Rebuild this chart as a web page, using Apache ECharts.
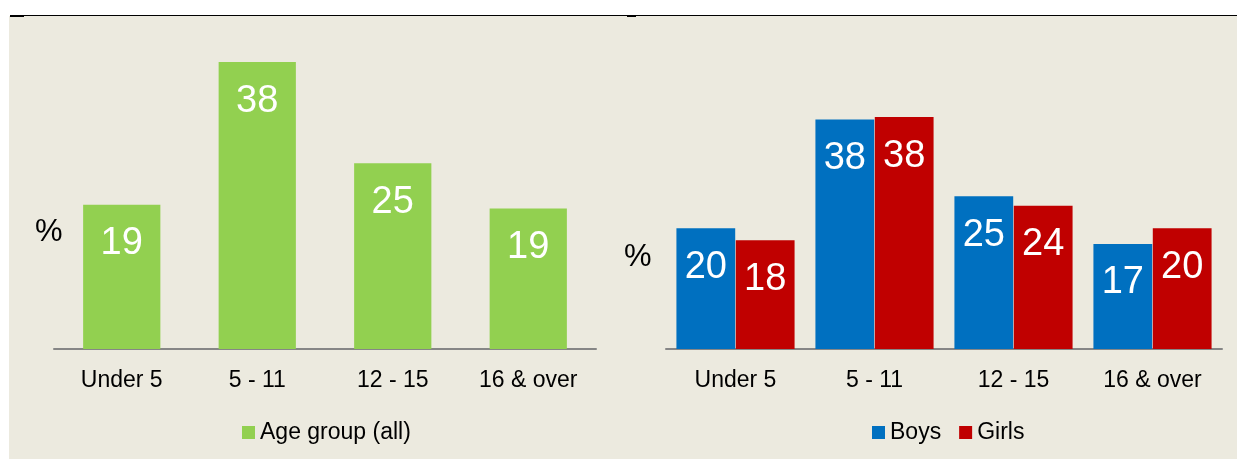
<!DOCTYPE html>
<html>
<head>
<meta charset="utf-8">
<script src="https://cdn.jsdelivr.net/npm/echarts@6/dist/echarts.min.js"></script>
<style>
  html, body { margin: 0; padding: 0; background: #ffffff; }
  #chart { width: 1237px; height: 459px; }
</style>
</head>
<body>
<div id="chart"></div>
<script>
'use strict';

// categories shared by both panels
var categories = ['Under 5', '5 - 11', '12 - 15', '16 & over'];
// left panel: all children by age group (%)
var ageAll = [19.1, 38, 24.6, 18.6];
// right panel: boys / girls by age group (%)
var boys = [20, 38, 25.3, 17.4];
var girls = [18, 38.4, 23.7, 20];

var FONT = 'Liberation Sans, Arial, sans-serif';

var chart = echarts.init(document.getElementById('chart'));

function valueLabel() {
    return {
        show: true,
        position: 'insideTop',
        distance: 20,
        color: '#ffffff',
        fontSize: 38,
        fontFamily: FONT,
        formatter: function (p) { return Math.round(p.value); }
    };
}

function catAxis(idx) {
    return {
        type: 'category',
        gridIndex: idx,
        data: categories,
        axisLine: { lineStyle: { color: '#868686', width: 2 } },
        axisTick: { show: false },
        axisLabel: { color: '#000000', fontSize: 23, fontFamily: FONT, margin: 20 }
    };
}

var option = {
    backgroundColor: '#ffffff',
    animation: false,
    textStyle: { fontFamily: FONT },
    graphic: [
        // beige panel
        { type: 'rect', z: -10, shape: { x: 9, y: 16, width: 1228, height: 443 }, style: { fill: '#ECEADF' } },
        // top rule and its small marks
        { type: 'rect', z: -5, shape: { x: 10, y: 15, width: 1227, height: 1 }, style: { fill: '#000000' } },
        { type: 'rect', z: -5, shape: { x: 10, y: 15, width: 14, height: 2 }, style: { fill: '#000000' } },
        { type: 'rect', z: -5, shape: { x: 627, y: 15, width: 9, height: 2 }, style: { fill: '#000000' } },
        // % signs
        { type: 'text', left: 35, top: 217, style: { text: '%', fontSize: 31, fontFamily: FONT, fill: '#000000' } },
        { type: 'text', left: 624, top: 242, style: { text: '%', fontSize: 31, fontFamily: FONT, fill: '#000000' } }
    ],
    legend: [
        {
            data: ['Age group (all)'],
            left: 242, top: 421, padding: 0,
            itemWidth: 13, itemHeight: 13, itemGap: 18,
            icon: 'rect',
            textStyle: { fontSize: 23, color: '#000000', fontFamily: FONT }
        },
        {
            data: ['Boys', 'Girls'],
            left: 872, top: 421, padding: 0,
            itemWidth: 13, itemHeight: 13, itemGap: 18,
            icon: 'rect',
            textStyle: { fontSize: 23, color: '#000000', fontFamily: FONT }
        }
    ],
    grid: [
        { left: 54, top: 47, width: 542, height: 302 },
        { left: 666, top: 47, width: 556, height: 302 }
    ],
    xAxis: [catAxis(0), catAxis(1)],
    yAxis: [
        { type: 'value', gridIndex: 0, min: 0, max: 40, show: false, splitLine: { show: false } },
        { type: 'value', gridIndex: 1, min: 0, max: 50, show: false, splitLine: { show: false } }
    ],
    series: [
        {
            name: 'Age group (all)', type: 'bar', xAxisIndex: 0, yAxisIndex: 0,
            data: ageAll, barCategoryGap: '43%',
            itemStyle: { color: '#92D050' },
            label: valueLabel()
        },
        {
            name: 'Boys', type: 'bar', xAxisIndex: 1, yAxisIndex: 1,
            data: boys, barGap: '1%', barCategoryGap: '15%',
            itemStyle: { color: '#0070C0' },
            label: valueLabel()
        },
        {
            name: 'Girls', type: 'bar', xAxisIndex: 1, yAxisIndex: 1,
            data: girls, barGap: '1%', barCategoryGap: '15%',
            itemStyle: { color: '#C00000' },
            label: valueLabel()
        }
    ]
};

chart.setOption(option);
</script>
</body>
</html>
